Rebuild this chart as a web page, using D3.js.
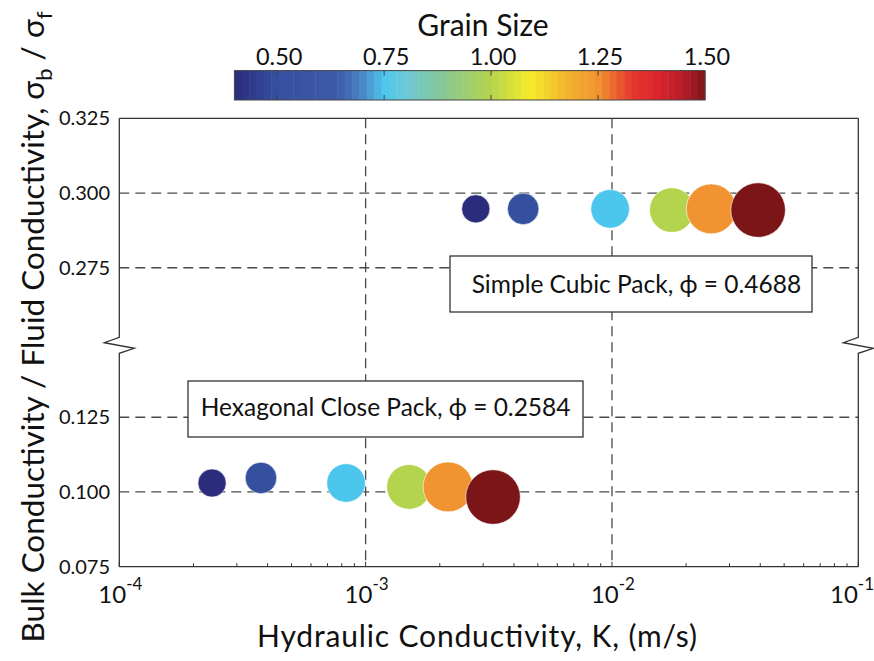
<!DOCTYPE html>
<html>
<head>
<meta charset="utf-8">
<script src="https://cdn.jsdelivr.net/npm/d3@7"></script>
<style>
  body { margin: 0; background: #fff; }
  svg { display: block; font-family: Lato, 'Open Sans', sans-serif; }
</style>
</head>
<body>
<div id="chart"></div>
<script>
// ── data ──
const grainSizes = [0.40, 0.50, 0.75, 1.00, 1.25, 1.50];
const cubicK     = [2.80e-3, 4.36e-3, 9.83e-3, 1.75e-2, 2.53e-2, 3.92e-2];
const cubicRatio = [0.2947, 0.2947, 0.2947, 0.2943, 0.2947, 0.2943];
const hexK       = [2.38e-4, 3.76e-4, 8.33e-4, 1.50e-3, 2.16e-3, 3.29e-3];
const hexRatio   = [0.1030, 0.1047, 0.1030, 0.1017, 0.1017, 0.0983];

const xTicks      = [1e-4, 1e-3, 1e-2, 1e-1];
const xTickExp    = ['-4', '-3', '-2', '-1'];
const yTicksUpper = [0.275, 0.300, 0.325];
const yTicksLower = [0.075, 0.100, 0.125];
const gridUpper   = [0.275, 0.300];
const gridLower   = [0.100, 0.125];
const cbTicks     = [0.50, 0.75, 1.00, 1.25, 1.50];

// colour map stops (grain size -> colour)
const cmapStops  = [0.40, 0.50, 0.64, 0.70, 0.75, 0.80, 0.88, 1.00, 1.09, 1.17, 1.25, 1.33, 1.39, 1.45, 1.50];
const cmapColors = ['#2b2c7c', '#3650a0', '#3d5aa8', '#4a88c8', '#4dc6ee', '#6ecad8', '#85c79a', '#b5d44e',
                    '#f6ec2a', '#f3b82e', '#f09330', '#e5372e', '#d9252e', '#b41d29', '#7b1518'];

const W = 874, H = 661;
const L = 119.3, R = 858.3, T = 118.3, B = 566.7, MID = (T + B) / 2;

const x   = d3.scaleLog([1e-4, 1e-1], [L, R]);
const yUp = d3.scaleLinear([0.25, 0.325], [MID, T]);
const yLo = d3.scaleLinear([0.075, 0.15], [B, MID]);
const y   = v => v >= 0.2 ? yUp(v) : yLo(v);
const rad = d3.scaleSqrt([0, 1.5], [0, 27.3]);
const cmap = d3.scaleLinear(cmapStops, cmapColors);

const svg = d3.select('#chart').append('svg')
  .attr('width', W).attr('height', H).attr('viewBox', `0 0 ${W} ${H}`);

const gridCol = '#4a4a4a', axisCol = '#333';

// grid
svg.append('g').selectAll('line').data([1e-3, 1e-2]).join('line')
  .attr('x1', d => x(d)).attr('x2', d => x(d)).attr('y1', T).attr('y2', B)
  .attr('stroke', gridCol).attr('stroke-width', 1.3).attr('stroke-dasharray', '10,6');
svg.append('g').selectAll('line').data(gridUpper.concat(gridLower)).join('line')
  .attr('x1', L).attr('x2', R).attr('y1', d => y(d)).attr('y2', d => y(d))
  .attr('stroke', gridCol).attr('stroke-width', 1.3).attr('stroke-dasharray', '10,6');

// annotation boxes
const notes = [
  { x: 450, y: 256, w: 362, h: 56, tx: 471.7, ty: 293, text: 'Simple Cubic Pack, ϕ = 0.4688' },
  { x: 188, y: 381, w: 395, h: 56, tx: 200.7, ty: 416, text: 'Hexagonal Close Pack, ϕ = 0.2584' },
];
notes.forEach(n => {
  svg.append('rect').attr('x', n.x).attr('y', n.y).attr('width', n.w).attr('height', n.h)
    .attr('fill', '#fff').attr('stroke', axisCol).attr('stroke-width', 1.3);
  svg.append('text').attr('x', n.tx).attr('y', n.ty)
    .attr('font-size', 24.5).attr('fill', '#111').text(n.text);
});

// circles
const rows = [
  grainSizes.map((g, i) => ({ g, k: hexK[i], v: hexRatio[i] })),
  grainSizes.map((g, i) => ({ g, k: cubicK[i], v: cubicRatio[i] })),
];
rows.forEach(row => {
  svg.append('g').selectAll('circle').data(row).join('circle')
    .attr('cx', d => x(d.k)).attr('cy', d => y(d.v)).attr('r', d => rad(d.g))
    .attr('fill', d => cmap(d.g)).attr('stroke', '#fff').attr('stroke-width', 0.6);
});

// frame with axis breaks
const zig = [-5.2, 0.2, 5.8, 10.8];
const side = (x0) => d3.line()([
  [x0, T], [x0, MID + zig[0]], [x0 - 15, MID + zig[1]], [x0 + 15, MID + zig[2]], [x0, MID + zig[3]], [x0, B]
]);
svg.append('path').attr('d', side(L)).attr('fill', 'none').attr('stroke', axisCol).attr('stroke-width', 1.3);
svg.append('path').attr('d', side(R)).attr('fill', 'none').attr('stroke', axisCol).attr('stroke-width', 1.3);
svg.append('line').attr('x1', L).attr('x2', R).attr('y1', T).attr('y2', T)
  .attr('stroke', axisCol).attr('stroke-width', 1.3);
svg.append('line').attr('x1', L).attr('x2', R).attr('y1', B).attr('y2', B)
  .attr('stroke', axisCol).attr('stroke-width', 1.3);

// bottom ticks (major + minor log ticks, inward)
const minor = x.ticks().filter(t => !xTicks.includes(t));
svg.append('g').selectAll('line').data(minor).join('line')
  .attr('x1', d => x(d)).attr('x2', d => x(d)).attr('y1', B).attr('y2', B - 3.5)
  .attr('stroke', axisCol).attr('stroke-width', 1);
svg.append('g').selectAll('line').data(xTicks).join('line')
  .attr('x1', d => x(d)).attr('x2', d => x(d)).attr('y1', B).attr('y2', B - 5)
  .attr('stroke', axisCol).attr('stroke-width', 1);

// x tick labels 10^n
const xl = svg.append('g').selectAll('text').data(xTicks).join('text')
  .attr('x', d => Math.min(x(d) + 1, W - 22)).attr('y', 603).attr('text-anchor', 'middle')
  .attr('font-size', 24).attr('fill', '#111');
xl.append('tspan').text('10');
xl.append('tspan').attr('dy', -13).attr('font-size', 17).text((d, i) => xTickExp[i]);

// y tick labels
svg.append('g').selectAll('text').data(yTicksUpper.concat(yTicksLower)).join('text')
  .attr('x', 110).attr('y', d => y(d)).attr('dy', '0.35em').attr('text-anchor', 'end')
  .attr('font-size', 20).attr('fill', '#111').text(d => d.toFixed(3));

// axis titles
svg.append('text').attr('x', 477).attr('y', 647).attr('text-anchor', 'middle')
  .attr('font-size', 30).attr('fill', '#111')
  .attr('textLength', 440).attr('lengthAdjust', 'spacing')
  .text('Hydraulic Conductivity, K, (m/s)');

const yt = svg.append('text').attr('transform', 'translate(44,327) rotate(-90)')
  .attr('text-anchor', 'middle').attr('font-size', 31.5).attr('fill', '#111');
yt.append('tspan').text('Bulk Conductivity / Fluid Conductivity, σ');
yt.append('tspan').attr('dy', 8).attr('font-size', 22).text('b');
yt.append('tspan').attr('dy', -8).text(' / σ');
yt.append('tspan').attr('dy', 8).attr('font-size', 22).text('f');

// colour bar
const cbX = d3.scaleLinear([0.40, 1.50], [234.4, 705]);
const cbT = 70.6, cbB = 100;
const nBands = 64;
const bands = d3.range(nBands).map(i => 0.40 + (i + 0.5) * 1.10 / nBands);
const bw = (cbX(1.5) - cbX(0.4)) / nBands;
svg.append('g').selectAll('rect').data(bands).join('rect')
  .attr('x', d => cbX(d) - bw / 2).attr('y', cbT).attr('width', bw + 0.5).attr('height', cbB - cbT)
  .attr('fill', d => cmap(d));
svg.append('rect').attr('x', cbX(0.4)).attr('y', cbT).attr('width', cbX(1.5) - cbX(0.4)).attr('height', cbB - cbT)
  .attr('fill', 'none').attr('stroke', '#444').attr('stroke-width', 1);
svg.append('g').selectAll('path').data(cbTicks.slice(0, -1)).join('path')
  .attr('d', d => `M${cbX(d)},${cbT}v5M${cbX(d)},${cbB}v-5`)
  .attr('stroke', '#444').attr('stroke-width', 1);
svg.append('g').selectAll('text').data(cbTicks).join('text')
  .attr('x', d => cbX(d) + 2).attr('y', 65).attr('text-anchor', 'middle')
  .attr('font-size', 23.5).attr('fill', '#111').text(d => d.toFixed(2));
svg.append('text').attr('x', 483).attr('y', 36).attr('text-anchor', 'middle')
  .attr('font-size', 30).attr('fill', '#111').text('Grain Size');
</script>
</body>
</html>
